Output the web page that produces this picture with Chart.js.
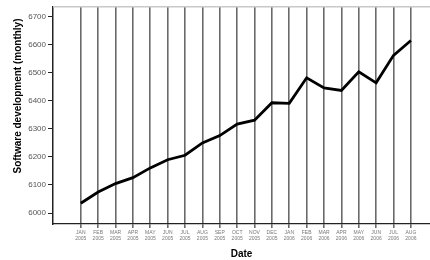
<!DOCTYPE html>
<html><head><meta charset="utf-8">
<script src="https://cdn.jsdelivr.net/npm/chart.js@4/dist/chart.umd.min.js"></script>
<style>html,body{margin:0;padding:0;background:#fff}#wrap{width:430px;height:260px}</style>
</head><body><div id="wrap"><canvas id="c" width="430" height="260"></canvas></div>
<script>
const months = ['JAN','FEB','MAR','APR','MAY','JUN','JUL','AUG','SEP','OCT','NOV','DEC','JAN','FEB','MAR','APR','MAY','JUN','JUL','AUG'];
const years = ['2005','2005','2005','2005','2005','2005','2005','2005','2005','2005','2005','2005','2006','2006','2006','2006','2006','2006','2006','2006'];
const values = [6035,6075,6105,6126,6161,6190,6206,6250,6276,6317,6331,6393,6391,6482,6446,6437,6503,6464,6562,6615];
const yTicks = [6000,6100,6200,6300,6400,6500,6600,6700];
const yTitle = 'Software development (monthly)';

const decor = {
  id:'decor',
  afterDraw(chart){
    const {ctx, chartArea:a} = chart;
    ctx.save(); ctx.strokeStyle='#c8c8c8'; ctx.lineWidth=1.5;
    ctx.beginPath(); ctx.moveTo(a.left, a.top); ctx.lineTo(a.right, a.top); ctx.stroke();
    ctx.translate(18, 96);
    ctx.rotate(-Math.PI/2);
    ctx.fillStyle='#000'; ctx.font='bold 10px "Liberation Sans"';
    ctx.textAlign='center'; ctx.textBaseline='middle';
    ctx.fillText(yTitle, 0, 0);
    ctx.restore();
  }
};

new Chart(document.getElementById('c'), {
  type:'line',
  data:{ datasets:[{ data: values.map((v,i)=>({x:i,y:v})), borderColor:'#000', borderWidth:2.8, pointRadius:0, tension:0, fill:false }]},
  options:{
    responsive:false, animation:false, devicePixelRatio:1,
    layout:{padding:{top:5,right:0,bottom:0,left:0}},
    plugins:{legend:{display:false}, tooltip:{enabled:false}},
    scales:{
      x:{ type:'linear', min:-1.6, max:20.1,
        afterBuildTicks(s){ s.ticks = months.map((m,i)=>({value:i})); },
        afterFit(s){ s.height = 36; },
        ticks:{ autoSkip:false, maxRotation:0, color:'#777', font:{family:'Liberation Sans', size:5}, padding:2,
          callback:(v)=> [months[v], years[v]] },
        grid:{ color:'#6a6a6a', lineWidth:1.6, tickLength:4, drawOnChartArea:true },
        border:{ color:'#222', width:1.2 },
        title:{ display:true, text:'Date', color:'#000', font:{family:'Liberation Sans', size:10, weight:'bold'}, padding:{top:2,bottom:0} }
      },
      y:{ min:5961, max:6735,
        afterBuildTicks(s){ s.ticks = yTicks.map(v=>({value:v})); },
        afterFit(s){ s.width = 53; },
        ticks:{ color:'#555', font:{family:'Liberation Sans', size:8}, padding:2, callback:(v)=> String(v) },
        grid:{ drawOnChartArea:false, tickLength:5, color:'#222', lineWidth:1 },
        border:{ color:'#222', width:1.5 },
        title:{ display:false }
      }
    }
  },
  plugins:[decor]
});
</script></body></html>
